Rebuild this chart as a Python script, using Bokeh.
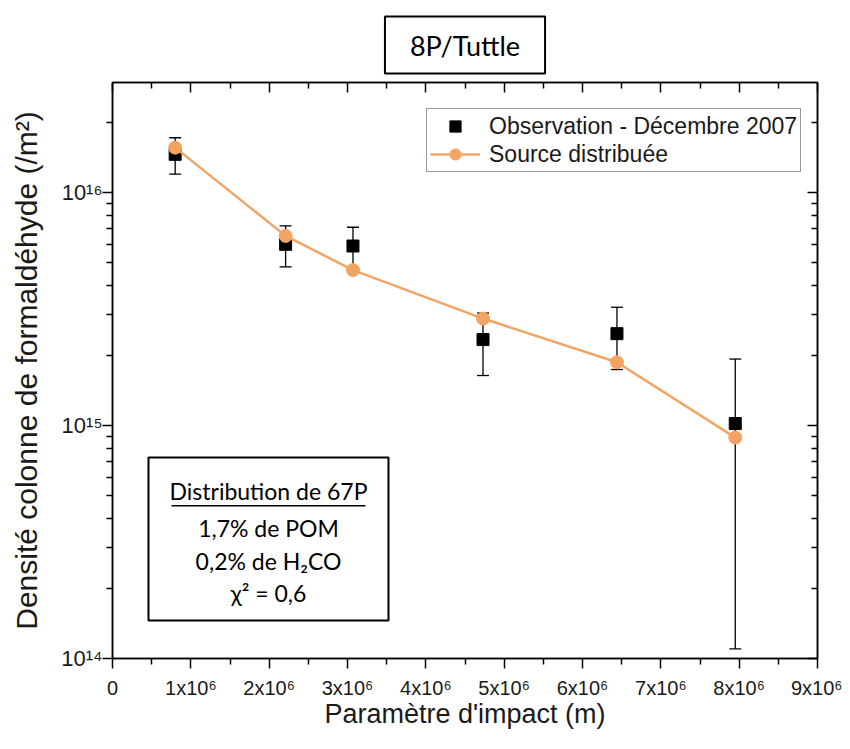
from bokeh.plotting import figure
from bokeh.models import (ColumnDataSource, Range1d, FixedTicker, LogAxis, LinearAxis,
                          Whisker, TeeHead, Legend, LegendItem, Label, BoxAnnotation)
from bokeh.embed import file_html
from bokeh.resources import INLINE

# ---- data ----
impact = [0.80e6, 2.21e6, 3.07e6, 4.73e6, 6.44e6, 7.95e6]
obs = [1.46e16, 6.0e15, 5.9e15, 2.34e15, 2.48e15, 1.02e15]
obs_err = [2.6e15, 1.2e15, 1.2e15, 0.7e15, 0.74e15, 0.91e15]
model = [1.56e16, 6.52e15, 4.65e15, 2.88e15, 1.87e15, 8.88e14]

x_ticks = [0, 1e6, 2e6, 3e6, 4e6, 5e6, 6e6, 7e6, 8e6, 9e6]
x_tick_labels = ["0", "1x10⁶", "2x10⁶", "3x10⁶", "4x10⁶", "5x10⁶", "6x10⁶", "7x10⁶", "8x10⁶", "9x10⁶"]
y_ticks = [1e14, 1e15, 1e16]
y_tick_labels = ["10¹⁴", "10¹⁵", "10¹⁶"]

title_text = "8P/Tuttle"
x_label = "Paramètre d'impact (m)"
y_label = "Densité colonne de formaldéhyde (/m²)"
box_lines = ["Distribution de 67P", "1,7% de POM", "0,2% de H₂CO", "χ² = 0,6"]

ORANGE = "#F4A462"
AX_FONT = "Liberation Sans"
BOX_FONT = "Lato"

src = ColumnDataSource(dict(
    x=impact, obs=obs, model=model,
    upper=[o + e for o, e in zip(obs, obs_err)],
    lower=[o - e for o, e in zip(obs, obs_err)],
))

W, H = 842, 741
p = figure(width=W, height=H, x_range=Range1d(0, 9e6), y_range=Range1d(1e14, 2.97e16),
           y_axis_type="log", output_backend="svg", toolbar_location=None,
           min_border_left=112, min_border_right=25, min_border_top=82, min_border_bottom=83)
p.xgrid.visible = False
p.ygrid.visible = False
p.outline_line_color = "black"
p.outline_line_width = 1.5
p.background_fill_color = "white"
p.border_fill_color = "white"

# title in a bordered box
p.title.text = title_text
p.title.align = "center"
p.title.text_font = BOX_FONT
p.title.text_font_size = "27px"
p.title.text_font_style = "normal"
p.title.text_color = "black"
p.title.border_line_color = "black"
p.title.border_line_width = 2
p.title.background_fill_color = "white"
p.title.padding = dict(x=25, y=12)
p.title.standoff = 18

x_minor = [x + 0.5e6 for x in x_ticks[:-1]]
y_minor = [m * t for t in y_ticks[:-1] for m in range(2, 10)] + [2e16]
xt = FixedTicker(ticks=x_ticks, minor_ticks=x_minor)
yt = FixedTicker(ticks=y_ticks, minor_ticks=y_minor)

def style(ax, outward):
    ax.axis_line_color = "black"
    ax.axis_line_width = 1.5
    ax.major_tick_line_color = "black"
    ax.minor_tick_line_color = "black"
    ax.major_tick_line_width = 1.5
    ax.minor_tick_line_width = 1.5
    if outward:
        ax.major_tick_out, ax.major_tick_in = 10, 0
        ax.minor_tick_out, ax.minor_tick_in = 6, 0
    else:
        ax.major_tick_out, ax.major_tick_in = 0, 10
        ax.minor_tick_out, ax.minor_tick_in = 0, 6

xa = p.xaxis[0]
xa.ticker = xt
style(xa, True)
xa.major_label_overrides = {t: l for t, l in zip(x_ticks, x_tick_labels)}
xa.major_label_text_font = AX_FONT
xa.major_label_text_font_size = "20px"
xa.major_label_text_color = "#1a1a1a"
xa.major_label_standoff = 8
xa.axis_label = x_label
xa.axis_label_text_font = AX_FONT
xa.axis_label_text_font_size = "27px"
xa.axis_label_text_font_style = "normal"
xa.axis_label_text_color = "#1a1a1a"
xa.axis_label_standoff = -3

ya = p.yaxis[0]
ya.ticker = yt
style(ya, True)
ya.major_label_overrides = {t: l for t, l in zip(y_ticks, y_tick_labels)}
ya.major_label_text_font = AX_FONT
ya.major_label_text_font_size = "22px"
ya.major_label_text_color = "#1a1a1a"
ya.major_label_standoff = 0
ya.axis_label = y_label
ya.axis_label_text_font = AX_FONT
ya.axis_label_text_font_size = "30px"
ya.axis_label_text_font_style = "normal"
ya.axis_label_text_color = "#1a1a1a"
ya.axis_label_standoff = 15

ra = LogAxis(ticker=yt)
style(ra, False)
ra.major_label_overrides = {t: "" for t in y_ticks}
ra.major_label_standoff = 0
p.add_layout(ra, "right")

ta = LinearAxis(ticker=xt)
style(ta, False)
ta.major_label_overrides = {t: "" for t in x_ticks}
ta.major_label_standoff = 0
p.add_layout(ta, "above")

# error bars
wh = Whisker(source=src, base="x", upper="upper", lower="lower",
             line_color="black", line_width=1.3,
             upper_head=TeeHead(size=12, line_color="black", line_width=1.3),
             lower_head=TeeHead(size=12, line_color="black", line_width=1.3))
p.add_layout(wh)

sq = p.scatter("x", "obs", source=src, marker="square", size=12,
               fill_color="black", line_color="black")
ln = p.line("x", "model", source=src, line_color=ORANGE, line_width=2.5)
ci = p.scatter("x", "model", source=src, marker="circle", size=13,
               fill_color=ORANGE, line_color=ORANGE)

legend = Legend(items=[LegendItem(label="Observation - Décembre 2007", renderers=[sq]),
                       LegendItem(label="Source distribuée", renderers=[ln, ci])],
                location=(314, 486), margin=0, padding=3, spacing=0,
                glyph_width=50, glyph_height=28, label_height=28, label_standoff=9,
                label_text_font=AX_FONT, label_text_font_size="23px", label_text_color="#1a1a1a",
                border_line_color="#333333", border_line_width=1.5,
                background_fill_color="white", background_fill_alpha=1)
p.add_layout(legend)

# annotation box (screen units relative to the plot frame)
p.add_layout(BoxAnnotation(left=36, right=276, bottom=38, top=201,
                           left_units="screen", right_units="screen",
                           bottom_units="screen", top_units="screen",
                           fill_color="white", fill_alpha=1,
                           line_color="black", line_alpha=1, line_width=2))
for txt, yy in zip(box_lines, [168, 131, 98, 66]):
    p.add_layout(Label(x=156, y=yy, x_units="screen", y_units="screen", text=txt,
                       text_align="center", text_baseline="middle",
                       text_font=BOX_FONT, text_font_size="23px", text_color="black"))
p.add_layout(BoxAnnotation(left=59, right=253, bottom=152, top=153.5,
                           left_units="screen", right_units="screen",
                           bottom_units="screen", top_units="screen",
                           fill_color="black", fill_alpha=1, line_color=None))

open("out.html", "w").write(file_html(p, INLINE))
